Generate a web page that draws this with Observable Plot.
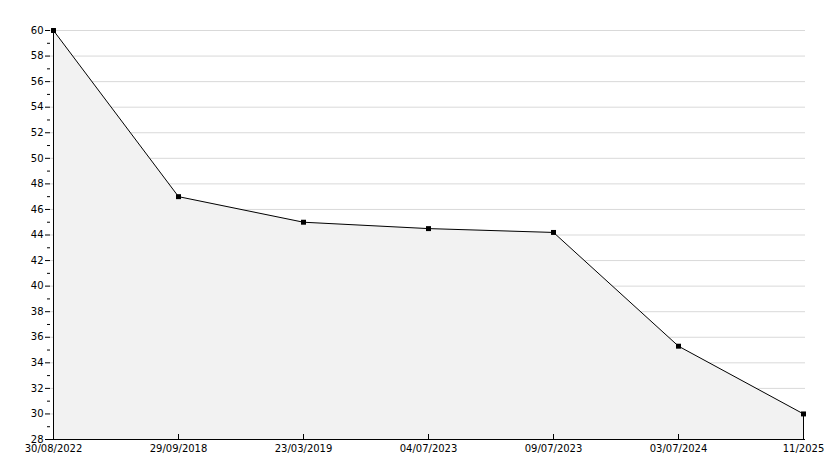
<!DOCTYPE html>
<html><head><meta charset="utf-8">
<script src="https://cdn.jsdelivr.net/npm/d3@7"></script>
<script src="https://cdn.jsdelivr.net/npm/@observablehq/plot@0.6"></script>
<style>body{margin:0;background:#fff}svg{display:block}</style>
</head><body><div id="chart"></div>
<script>
const dates = ["30/08/2022","29/09/2018","23/03/2019","04/07/2023","09/07/2023","03/07/2024","11/2025"];
const values = [60, 47, 45, 44.5, 44.2, 35.3, 30];
const yMajorTicks = d3.range(28, 61, 2);
const yMinorTicks = d3.range(29, 60, 2);
const yMin = 28, yMax = 60;

const data = dates.map((d, i) => ({date: d, value: values[i]}));
const last = data[data.length - 1];

const chart = Plot.plot({
  width: 834, height: 468,
  marginLeft: 50, marginRight: 29, marginTop: 30, marginBottom: 29,
  style: {fontFamily: "DejaVu Sans", fontSize: "10px", color: "#000", background: "#fff"},
  x: {type: "point", domain: dates, padding: 0, range: [50, 805]},
  y: {domain: [yMin, yMax], range: [439, 30]},
  marks: [
    Plot.ruleY(yMajorTicks.filter(t => t > yMin), {stroke: "#d9d9d9", strokeWidth: 1, strokeOpacity: 1}),
    Plot.areaY(data, {x: "date", y1: yMin, y2: "value", fill: "#f2f2f2", curve: "linear"}),
    Plot.line(data, {x: "date", y: "value", stroke: "#000", strokeWidth: 1}),
    Plot.ruleX([last], {x: "date", y1: yMin, y2: "value", stroke: "#000", strokeWidth: 1}),
    Plot.dot(data, {x: "date", y: "value", symbol: "square", r: 2.8, fill: "#000", stroke: "none"}),
    Plot.axisY({ticks: yMajorTicks, tickSize: 5, tickPadding: 2, tickFormat: d => String(d), label: null, stroke: "#000"}),
    Plot.axisY({ticks: yMinorTicks, tickSize: 3, tickFormat: () => "", label: null, stroke: "#000"}),
    Plot.axisX({ticks: dates, tickSize: -5, tickPadding: 10, label: null, stroke: "#000"}),
    Plot.ruleY([yMin], {stroke: "#000"}),
    Plot.ruleX([dates[0]], {stroke: "#000"})
  ]
});
document.getElementById("chart").append(chart);
</script>
</body></html>
